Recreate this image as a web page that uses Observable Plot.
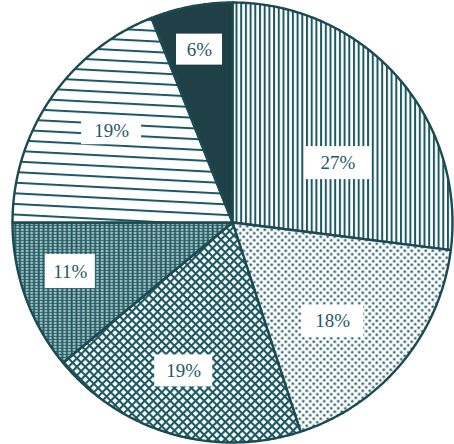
<!DOCTYPE html>
<html><head><meta charset="utf-8">
<script src="https://cdn.jsdelivr.net/npm/d3@7"></script>
<script src="https://cdn.jsdelivr.net/npm/@observablehq/plot@0.6"></script>
<style>html,body{margin:0;padding:0;background:#fff} svg{display:block}</style>
</head><body><div id="chart"></div>
<script>
// ---- data ----
const slices = ["Vertical lines", "Dots", "Cross-hatch", "Fine grid", "Horizontal lines", "Solid"];
const values = [27, 18, 19, 11, 19, 6];
const labels = ["27%", "18%", "19%", "11%", "19%", "6%"];

// ---- layout / style ----
const W = 454, H = 444, CX = 232, CY = 222, R = 220;
const fills = ["url(#vlines)", "url(#dots)", "url(#xhatch)", "url(#grid)", "url(#hlines)", "#1f4047"];
const labelRadius = [0.55, 0.64, 0.71, 0.77, 0.69, 0.80];
const labelTurn = [12, 5, 2, 3, 3, 0];
const boxW = [66, 62, 58, 50, 60, 46], boxH = [33, 32, 32, 34, 28, 31];
const ink = "#1d5962", edge = "#1b4a53", textInk = "#1f5a63";

const total = d3.sum(values);
let cum = 0;
const arcs = values.map((v, i) => { const a0 = cum / total * 360; cum += v; const a1 = cum / total * 360; return {i, a0, a1}; });
const pt = (deg, r) => ({x: r * Math.sin(deg * Math.PI / 180), y: r * Math.cos(deg * Math.PI / 180)});
const slicePaths = arcs.map(({a0, a1}) => {
  const pts = [{x: 0, y: 0}];
  const n = Math.ceil((a1 - a0) * 2);
  for (let k = 0; k <= n; k++) pts.push(pt(a0 + (a1 - a0) * k / n, 1));
  pts.push({x: 0, y: 0});
  return pts;
});
const labelData = arcs.map(({i, a0, a1}) => {
  const p = pt((a0 + a1) / 2 + labelTurn[i], labelRadius[i]);
  return {
    slice: slices[i], label: labels[i], x: p.x, y: p.y,
    x1: p.x - boxW[i] / 2 / R, x2: p.x + boxW[i] / 2 / R,
    y1: p.y - boxH[i] / 2 / R, y2: p.y + boxH[i] / 2 / R
  };
});

const chart = Plot.plot({
  width: W, height: H, margin: 0,
  x: {domain: [-CX / R, (W - CX) / R], axis: null},
  y: {domain: [-(H - CY) / R, CY / R], axis: null},
  marks: [
    ...slicePaths.map((pts, i) => Plot.line(pts, {x: "x", y: "y", fill: fills[i], stroke: edge, strokeWidth: 2.4, strokeLinejoin: "round"})),
    Plot.rect(labelData, {x1: "x1", x2: "x2", y1: "y1", y2: "y2", fill: "white"}),
    Plot.text(labelData, {x: "x", y: "y", text: "label", fill: textInk, fontSize: 19, fontFamily: "Liberation Serif"})
  ]
});

const defs = document.createElementNS("http://www.w3.org/2000/svg", "defs");
defs.innerHTML = `
<pattern id="vlines" patternUnits="userSpaceOnUse" width="4.7" height="10"><rect width="4.7" height="10" fill="#fff"/><rect x="0" width="2" height="10" fill="${ink}"/></pattern>
<pattern id="dots" patternUnits="userSpaceOnUse" width="7" height="7"><rect width="7" height="7" fill="#fff"/><circle cx="1.75" cy="1.75" r="1.3" fill="${ink}"/><circle cx="5.25" cy="5.25" r="1.3" fill="${ink}"/></pattern>
<pattern id="xhatch" patternUnits="userSpaceOnUse" width="6" height="6" patternTransform="rotate(45)"><rect width="6" height="6" fill="#fff"/><rect width="6" height="2.1" fill="${ink}"/><rect width="2.1" height="6" fill="${ink}"/></pattern>
<pattern id="grid" patternUnits="userSpaceOnUse" width="4.7" height="3"><rect width="4.7" height="3" fill="${ink}"/><rect x="1.6" y="0.8" width="2.8" height="1.3" fill="#fff"/></pattern>
<pattern id="hlines" patternUnits="userSpaceOnUse" width="20" height="10.6" patternTransform="rotate(3)"><rect width="20" height="10.6" fill="#fff"/><rect y="0" width="20" height="2" fill="${ink}"/></pattern>`;
chart.insertBefore(defs, chart.firstChild);
document.getElementById("chart").appendChild(chart);
</script>
</body></html>
